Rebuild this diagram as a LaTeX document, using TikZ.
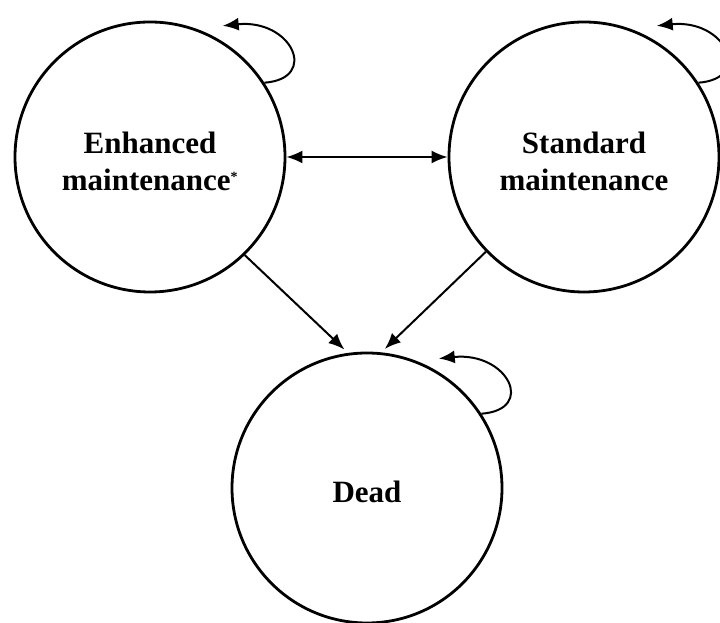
\documentclass[tikz,border=0pt]{standalone}
\usepackage{fontspec}
\setmainfont{Liberation Serif}
\usetikzlibrary{arrows.meta,calc}
\begin{document}
\begin{tikzpicture}[x=1pt,y=1pt,
  state/.style={circle,draw,line width=2.8pt,minimum size=270pt,inner sep=0pt},
  lbl/.style={align=center,inner sep=0pt,font=\fontsize{31}{37}\selectfont\bfseries},
  conn/.style={line width=2pt,-{Latex[length=16pt,width=13pt]}},
  dconn/.style={line width=2pt,{Latex[length=16pt,width=13pt]}-{Latex[length=16pt,width=13pt]}}]
\useasboundingbox (0,0) rectangle (720,623);
\node[state] (E) at (150,466) {};
\node[state] (S) at (584,466) {};
\node[state] (D) at (367,135) {};
\node[lbl] (Elbl) at ($(E.center)+(0,-4)$) {Enhanced\\maintenance\textsuperscript{\fontsize{14}{14}\selectfont *}};
\node[lbl] (Slbl) at ($(S.center)+(0,-4)$) {Standard\\maintenance};
\node[lbl] (Dlbl) at ($(D.center)+(0,-4)$) {Dead};
\coordinate (Et) at ($(E.center)+(61:150)$);
\coordinate (St) at ($(S.center)+(61:150)$);
\coordinate (Dt) at ($(D.center)+(61:148)$);
\draw[dconn] (E.east) -- (S.west);
\draw[conn,shorten >=5pt] (E.-46) -- (D.98);
\draw[conn,shorten >=5pt] (S.224) -- (D.84);
\draw[conn] (E.33) .. controls +(55,4) and +(69,7) .. (Et);
\draw[conn] (S.33) .. controls +(55,4) and +(69,7) .. (St);
\draw[conn] (D.33) .. controls +(55,4) and +(69,7) .. (Dt);
\end{tikzpicture}
\end{document}
